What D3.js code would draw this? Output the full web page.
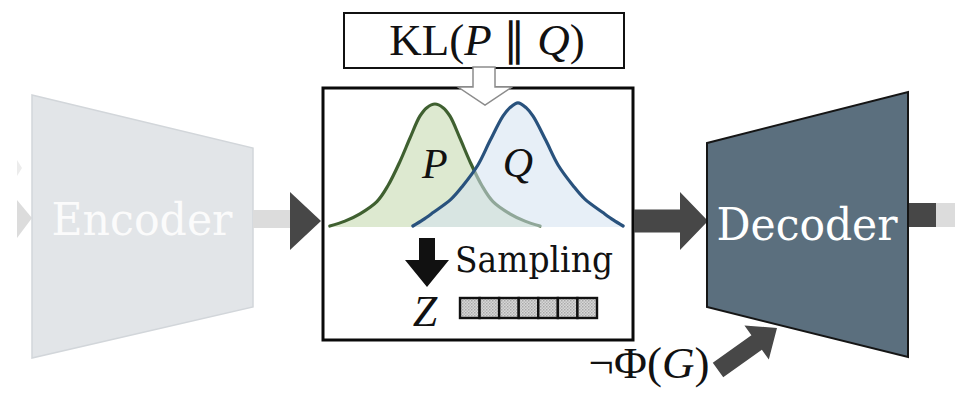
<!DOCTYPE html>
<html><head><meta charset="utf-8">
<script src="https://cdn.jsdelivr.net/npm/d3@7"></script>
<style>html,body{margin:0;padding:0;background:#fff}svg{display:block}</style>
</head><body>
<script>
// ---- data ----
// density curve P (x in abstract units, y relative density)
const pX = [-3.95,-3.54,-3.13,-2.67,-2.37,-2.04,-1.77,-1.50,-1.31,-1.09,-0.87,-0.68,-0.41,-0.14,0.19,0.49,0.95,1.36,1.77];
const pY = [0,0.04,0.10,0.20,0.33,0.53,0.72,0.90,0.97,1.00,0.97,0.90,0.72,0.53,0.33,0.20,0.10,0.04,0];
// density curve Q
const qX = [-1.69,-1.42,-1.14,-0.65,-0.33,0.08,0.41,0.76,0.95,1.17,1.39,1.58,1.93,2.26,2.67,2.99,3.48,3.76,4.03];
const qY = [0,0.05,0.11,0.22,0.33,0.50,0.70,0.90,0.97,1.01,0.97,0.90,0.70,0.50,0.33,0.22,0.11,0.05,0];
// latent vector cells
const latentCells = [0,1,2,3,4,5,6];
// labels
const encoderLabel = "Encoder";
const decoderLabel = "Decoder";
const samplingLabel = "Sampling";
const zLabel = "Z";

const W = 955, H = 397;
const svg = d3.select("body").append("svg").attr("width", W).attr("height", H);
svg.append("rect").attr("width", W).attr("height", H).attr("fill", "#fff");

const defs = svg.append("defs");
const pat = defs.append("pattern").attr("id","dots").attr("patternUnits","userSpaceOnUse")
  .attr("width",3).attr("height",3);
pat.append("rect").attr("width",3).attr("height",3).attr("fill","#d8d8d8");
pat.append("rect").attr("width",1.5).attr("height",1.5).attr("fill","#a9a9a9");
pat.append("rect").attr("x",1.5).attr("y",1.5).attr("width",1.5).attr("height",1.5).attr("fill","#b8b8b8");

function arrowPts(x0,y0,x1,y1,sw,hw,hl){
  const dx=x1-x0, dy=y1-y0, L=Math.hypot(dx,dy), ux=dx/L, uy=dy/L, nx=-uy, ny=ux;
  const bx=x1-ux*hl, by=y1-uy*hl;
  return [[x0+nx*sw/2,y0+ny*sw/2],[bx+nx*sw/2,by+ny*sw/2],[bx+nx*hw/2,by+ny*hw/2],[x1,y1],
          [bx-nx*hw/2,by-ny*hw/2],[bx-nx*sw/2,by-ny*sw/2],[x0-nx*sw/2,y0-ny*sw/2]];
}
const poly = pts => "M" + pts.map(p=>p.join(",")).join("L") + "Z";

const lightGray = "#dcdcdc", darkGray = "#474747";

// ---- left faint input arrow ----
svg.append("path").attr("d", poly([[17,200],[32,218],[17,238]])).attr("fill", lightGray);
svg.append("path").attr("d", poly([[17,160],[22,168],[17,176]])).attr("fill", "#ececec");

// ---- Encoder ----
svg.append("path").attr("d", poly([[32,95],[253,148],[253,307],[32,358]]))
  .attr("fill","#e2e5e8").attr("stroke","#d2d6da").attr("stroke-width",1.5);
svg.append("text").attr("x",142).attr("y",235).attr("text-anchor","middle")
  .attr("font-family","DejaVu Serif").attr("font-size",44).attr("fill","#fbfbfb")
  .attr("textLength",181).attr("lengthAdjust","spacingAndGlyphs").text(encoderLabel);

// ---- encoder -> box arrow ----
svg.append("rect").attr("x",253).attr("y",210).attr("width",40).attr("height",18).attr("fill",lightGray);
svg.append("path").attr("d", poly([[290,192],[321,221],[290,250]])).attr("fill",darkGray);

// ---- main box ----
svg.append("rect").attr("x",323).attr("y",88).attr("width",310).attr("height",252)
  .attr("fill","#fff").attr("stroke","#0a0a0a").attr("stroke-width",3);

const x = d3.scaleLinear().domain([-4,4]).range([328,622]);
const y = d3.scaleLinear().domain([0,1]).range([226,104]);
const P = pX.map((v,i)=>[v,pY[i]]);
const Q = qX.map((v,i)=>[v,qY[i]]);
const curve = d3.curveCatmullRom.alpha(0.5);
const area = d3.area().x(d=>x(d[0])).y0(y(0)+1).y1(d=>y(d[1])).curve(curve);
const line = d3.line().x(d=>x(d[0])).y(d=>y(d[1])).curve(curve);

svg.append("path").attr("d", area(P)).attr("fill","#dde9d0");
svg.append("path").attr("d", line(P)).attr("fill","none").attr("stroke","#3f6030").attr("stroke-width",3.2).attr("stroke-linecap","round");
svg.append("path").attr("d", area(Q)).attr("fill","#d4e2f1").attr("fill-opacity",0.55);
svg.append("path").attr("d", line(Q)).attr("fill","none").attr("stroke","#29527d").attr("stroke-width",3.2).attr("stroke-linecap","round");

svg.append("text").attr("x",x(-1.09)).attr("y",178).attr("text-anchor","middle")
  .attr("font-family","Liberation Serif").attr("font-style","italic").attr("font-size",42).attr("fill","#111").text("P");
svg.append("text").attr("x",x(1.17)).attr("y",177).attr("text-anchor","middle")
  .attr("font-family","Liberation Serif").attr("font-style","italic").attr("font-size",42).attr("fill","#111").text("Q");

// ---- KL box ----
svg.append("rect").attr("x",344).attr("y",13).attr("width",280).attr("height",55)
  .attr("fill","#fff").attr("stroke","#111").attr("stroke-width",2);
const kl = svg.append("text").attr("x",487).attr("y",55).attr("text-anchor","middle")
  .attr("font-family","Liberation Serif").attr("font-size",45).attr("fill","#111");
kl.append("tspan").text("KL(");
kl.append("tspan").attr("font-style","italic").text("P");
kl.append("tspan").text(" \u2225 ");
kl.append("tspan").attr("font-style","italic").text("Q");
kl.append("tspan").text(")");

// hollow arrow
svg.append("path").attr("d", poly([[473,67],[473,87],[458,87],[485,105],[512,87],[495,87],[495,67]]))
  .attr("fill","#fff").attr("stroke","#8c8c8c").attr("stroke-width",1.5);

// ---- sampling ----
svg.append("path").attr("d", poly(arrowPts(427,238,427,287,16,44,27))).attr("fill","#111");
svg.append("text").attr("x",455).attr("y",272)
  .attr("font-family","DejaVu Serif").attr("font-size",35).attr("fill","#111")
  .attr("textLength",158).attr("lengthAdjust","spacingAndGlyphs").text(samplingLabel);
svg.append("text").attr("x",425).attr("y",326).attr("text-anchor","middle")
  .attr("font-family","Liberation Serif").attr("font-style","italic").attr("font-size",44).attr("fill","#111").text(zLabel);

const bx = d3.scaleBand().domain(latentCells).range([460,597]);
svg.append("g").selectAll("rect").data(latentCells).join("rect")
  .attr("x",d=>bx(d)).attr("y",298).attr("width",bx.bandwidth()).attr("height",20)
  .attr("fill","url(#dots)").attr("stroke","#111").attr("stroke-width",2.4);

// ---- box -> decoder arrow ----
svg.append("path").attr("d", poly(arrowPts(634,221,708,221,23,58,28))).attr("fill",darkGray);

// ---- Decoder ----
svg.append("path").attr("d", poly([[707,143],[908,92],[908,357],[707,307]]))
  .attr("fill","#5b6f7e").attr("stroke","#151515").attr("stroke-width",2);
svg.append("text").attr("x",807).attr("y",240).attr("text-anchor","middle")
  .attr("font-family","DejaVu Serif").attr("font-size",44).attr("fill","#fff")
  .attr("textLength",181).attr("lengthAdjust","spacingAndGlyphs").text(decoderLabel);

// output arrow
svg.append("rect").attr("x",935).attr("y",203).attr("width",20).attr("height",24).attr("fill",lightGray);
svg.append("rect").attr("x",909).attr("y",203).attr("width",27).attr("height",24).attr("fill",darkGray);

// ---- ¬Φ(G) ----
const phi = svg.append("text").attr("x",649).attr("y",378).attr("text-anchor","middle")
  .attr("font-family","Liberation Serif").attr("font-size",45).attr("fill","#111");
phi.append("tspan").text("\u00AC\u03A6(");
phi.append("tspan").attr("font-style","italic").text("G");
phi.append("tspan").text(")");
svg.append("path").attr("d", poly(arrowPts(718,370,777,328,18,42,25))).attr("fill",darkGray);
</script>
</body></html>
